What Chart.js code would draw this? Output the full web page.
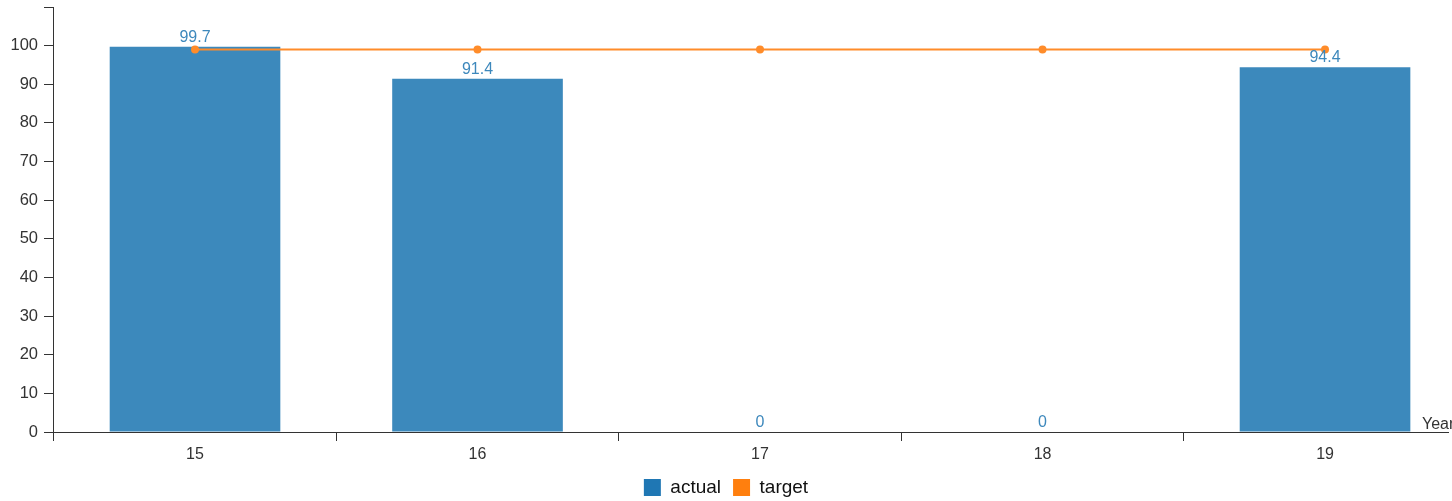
<!DOCTYPE html>
<html>
<head>
<meta charset="utf-8">
<script src="https://cdn.jsdelivr.net/npm/chart.js@4.4.0/dist/chart.umd.min.js"></script>
<style>
  html, body { margin: 0; padding: 0; background: #fff; overflow: hidden; }
</style>
</head>
<body>
<canvas id="chart" width="1452" height="501"></canvas>
<script>
var years  = [15, 16, 17, 18, 19]
var actual = [99.7, 91.4, 0, 0, 94.4]
var target = [99, 99, 99, 99, 99]

var FONT = '"Liberation Sans", Arial, sans-serif'
var AXIS = '#333'

// value labels above each bar
var valueLabels = {
  id: 'valueLabels',
  afterDatasetsDraw: function (chart) {
    var ctx = chart.ctx
    var meta = chart.getDatasetMeta(0)
    ctx.save()
    ctx.font = '16px ' + FONT
    ctx.fillStyle = '#3d88bc'
    ctx.textAlign = 'center'
    ctx.textBaseline = 'alphabetic'
    meta.data.forEach(function (el, i) {
      ctx.fillText(String(actual[i]), el.x, el.y - 5)
    })
    ctx.restore()
  }
}

// x axis title, outer right like the original; legend nudged down
var xTitle = {
  id: 'xTitle',
  afterLayout: function (chart) {
    chart.legend.top += 6
    chart.legend.bottom += 6
  },
  afterDraw: function (chart) {
    var ctx = chart.ctx
    var a = chart.chartArea
    ctx.save()
    ctx.font = '16px ' + FONT
    ctx.fillStyle = AXIS
    ctx.textAlign = 'left'
    ctx.fillText('Year', a.right - 26, a.bottom - 7)
    ctx.restore()
  }
}

new Chart(document.getElementById('chart').getContext('2d'), {
  type: 'bar',
  data: {
    datasets: [{
      label: 'actual',
      data: years.map(function (y, i) { return { x: y, y: actual[i] } }),
      backgroundColor: '#3c89bc',
      borderWidth: 0,
      categoryPercentage: 1,
      barPercentage: 0.604,
      order: 1
    }, {
      type: 'line',
      label: 'target',
      data: years.map(function (y, i) { return { x: y, y: target[i] } }),
      borderColor: '#ff8c2a',
      backgroundColor: '#ff7f0e',
      borderWidth: 2,
      pointRadius: 4,
      pointBorderWidth: 0,
      pointBackgroundColor: '#ff8c2a',
      order: 0
    }]
  },
  options: {
    responsive: false,
    animation: false,
    plugins: {
      tooltip: { enabled: false },
      legend: {
        position: 'bottom',
        labels: {
          font: { size: 19, family: FONT },
          color: '#111',
          boxWidth: 17,
          boxHeight: 17,
          padding: 12,
          generateLabels: function (chart) {
            var items = Chart.defaults.plugins.legend.labels.generateLabels(chart)
            items.sort(function (a, b) { return a.datasetIndex - b.datasetIndex })
            items.forEach(function (it) {
              it.fillStyle = it.datasetIndex === 0 ? '#1f77b4' : '#ff7f0e'
              it.strokeStyle = it.fillStyle
              it.lineWidth = 0
            })
            return items
          }
        }
      }
    },
    scales: {
      x: {
        type: 'linear',
        bounds: 'data',
        offset: false,
        min: 14.4973,
        max: 19.4353,
        z: 1,
        afterBuildTicks: function (s) {
          s.ticks = years.map(function (v) { return { value: v } })
        },
        afterFit: function (s) {
          s.height = 28
          s.paddingLeft = 0
          s.paddingRight = 0
        },
        ticks: {
          callback: function (v) { return String(v) },
          font: { size: 16, family: FONT },
          color: AXIS,
          padding: 4,
          autoSkip: false,
          maxRotation: 0
        },
        grid: { offset: true, drawOnChartArea: false, tickLength: 9, color: AXIS },
        border: { color: AXIS, width: 1 }
      },
      y: {
        min: 0,
        max: 110,
        afterFit: function (s) {
          s.width = 53
          s.paddingTop = 7
        },
        ticks: {
          stepSize: 10,
          callback: function (v) { return v === 110 ? '' : v },
          font: { size: 16.5, family: FONT },
          color: AXIS,
          padding: 6
        },
        grid: { drawOnChartArea: false, tickLength: 9, color: AXIS },
        border: { color: AXIS, width: 1 }
      }
    }
  },
  plugins: [valueLabels, xTitle]
})
</script>
</body>
</html>
